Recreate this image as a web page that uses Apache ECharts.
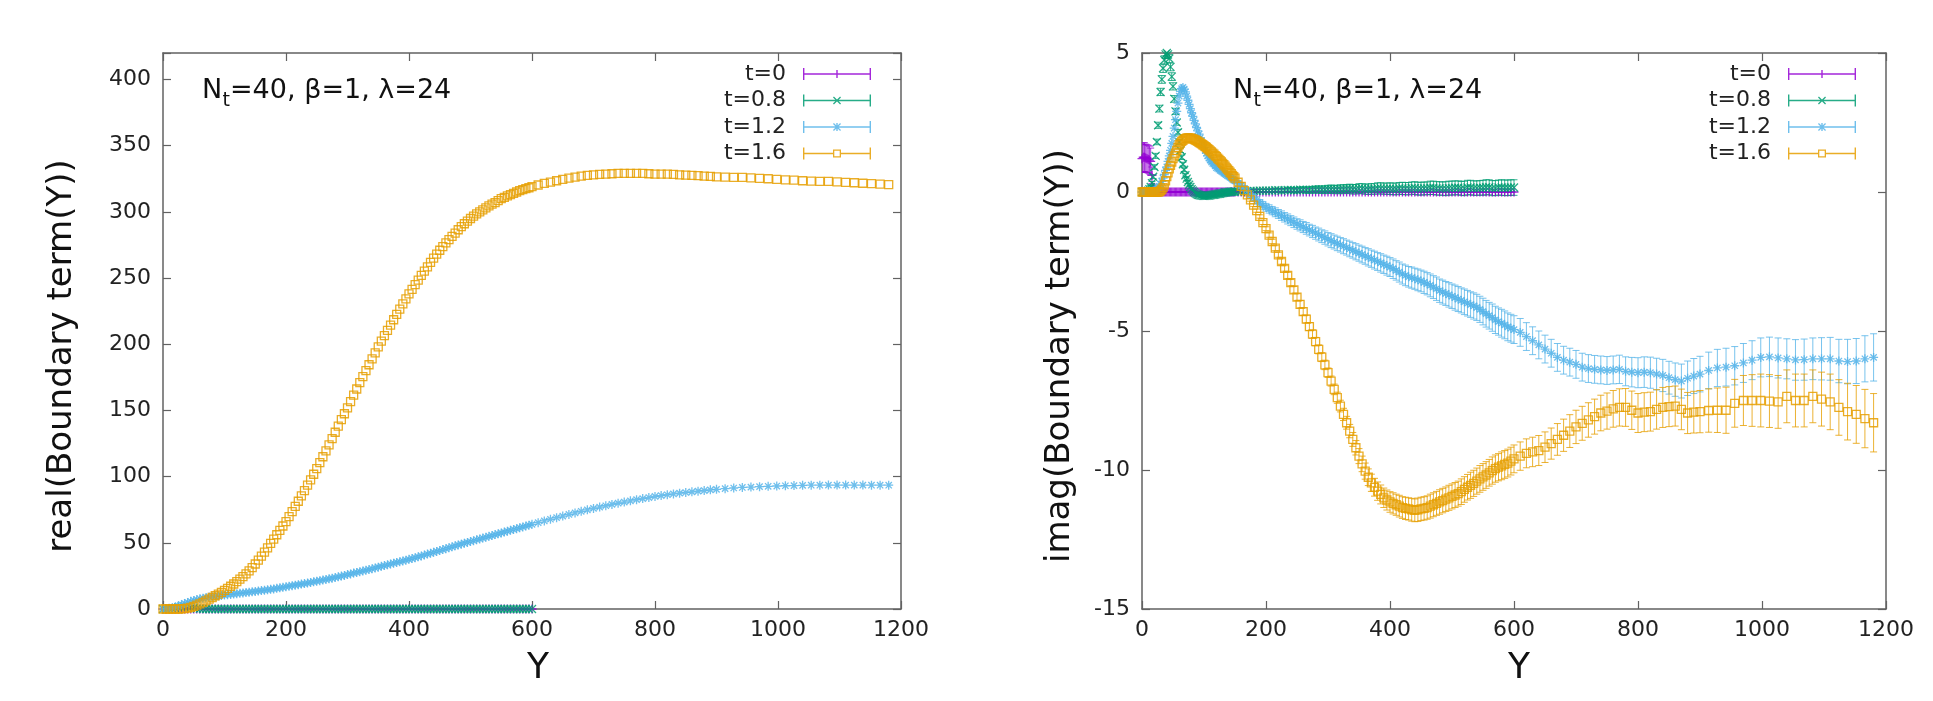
<!DOCTYPE html>
<html>
<head>
<meta charset="utf-8">
<script src="https://cdn.jsdelivr.net/npm/echarts@6/dist/echarts.min.js"></script>
<style>
  html, body { margin: 0; padding: 0; background: #fff; }
  #chart { width: 1933px; height: 701px; }
</style>
</head>
<body>
<div id="chart"></div>
<script>
// ---- left panel: Y values (t=0 and t=0.8 stop at Y=600, index 120) ----
const yReal = [
  0, 5, 10, 15, 20, 25, 30, 35, 40, 45,
  50, 55, 60, 65, 70, 75, 80, 85, 90, 95,
  100, 105, 110, 115, 120, 125, 130, 135, 140, 145,
  150, 155, 160, 165, 170, 175, 180, 185, 190, 195,
  200, 205, 210, 215, 220, 225, 230, 235, 240, 245,
  250, 255, 260, 265, 270, 275, 280, 285, 290, 295,
  300, 305, 310, 315, 320, 325, 330, 335, 340, 345,
  350, 355, 360, 365, 370, 375, 380, 385, 390, 395,
  400, 405, 410, 415, 420, 425, 430, 435, 440, 445,
  450, 455, 460, 465, 470, 475, 480, 485, 490, 495,
  500, 505, 510, 515, 520, 525, 530, 535, 540, 545,
  550, 555, 560, 565, 570, 575, 580, 585, 590, 595,
  600, 610, 620, 630, 640, 650, 660, 670, 680, 690,
  700, 710, 720, 730, 740, 750, 760, 770, 780, 790,
  800, 810, 820, 830, 840, 850, 860, 870, 880, 890,
  900, 914, 928, 942, 956, 970, 984, 998, 1012, 1026,
  1040, 1054, 1068, 1082, 1096, 1110, 1124, 1138, 1152, 1166,
  1180
];

const realT0 = [
  0, 0, 0, 0, 0, 0, 0, 0, 0, 0,
  0, 0, 0, 0, 0, 0, 0, 0, 0, 0,
  0, 0, 0, 0, 0, 0, 0, 0, 0, 0,
  0, 0, 0, 0, 0, 0, 0, 0, 0, 0,
  0, 0, 0, 0, 0, 0, 0, 0, 0, 0,
  0, 0, 0, 0, 0, 0, 0, 0, 0, 0,
  0, 0, 0, 0, 0, 0, 0, 0, 0, 0,
  0, 0, 0, 0, 0, 0, 0, 0, 0, 0,
  0, 0, 0, 0, 0, 0, 0, 0, 0, 0,
  0, 0, 0, 0, 0, 0, 0, 0, 0, 0,
  0, 0, 0, 0, 0, 0, 0, 0, 0, 0,
  0, 0, 0, 0, 0, 0, 0, 0, 0, 0,
  0
];
const realT08 = [
  0, 0, 0.1, 0.3, 0.5, 1.2, 1.8, 2.0, 1.8, 1.2,
  0.7, 0.3, 0.1, 0, 0, 0, 0, 0, 0, 0,
  0, 0, 0, 0, 0, 0, 0, 0, 0, 0,
  0, 0, 0, 0, 0, 0, 0, 0, 0, 0,
  0, 0, 0, 0, 0, 0, 0, 0, 0, 0,
  0, 0, 0, 0, 0, 0, 0, 0, 0, 0,
  0, 0, 0, 0, 0, 0, 0, 0, 0, 0,
  0, 0, 0, 0, 0, 0, 0, 0, 0, 0,
  0, 0, 0, 0, 0, 0, 0, 0, 0, 0,
  0, 0, 0, 0, 0, 0, 0, 0, 0, 0,
  0, 0, 0, 0, 0, 0, 0, 0, 0, 0,
  0, 0, 0, 0, 0, 0, 0, 0, 0, 0,
  0
];
const realT12 = [
  0, 0.2, 0.5, 1.0, 1.6, 2.4, 3.3, 4.2, 5.0, 5.8,
  6.5, 7.1, 7.7, 8.2, 8.6, 9.0, 9.3, 9.6, 9.9, 10.2,
  10.5, 10.8, 11.0, 11.3, 11.6, 11.9, 12.1, 12.4, 12.7, 13.0,
  13.3, 13.6, 13.9, 14.2, 14.5, 14.9, 15.2, 15.6, 16.0, 16.4,
  16.8, 17.2, 17.6, 18.0, 18.4, 18.8, 19.2, 19.6, 20.1, 20.5,
  21.0, 21.4, 21.9, 22.3, 22.8, 23.3, 23.8, 24.3, 24.9, 25.4,
  26.0, 26.5, 27.1, 27.6, 28.2, 28.7, 29.3, 29.8, 30.4, 31.0,
  31.6, 32.2, 32.8, 33.4, 34.0, 34.6, 35.2, 35.7, 36.3, 36.9,
  37.5, 38.1, 38.8, 39.4, 40.1, 40.8, 41.5, 42.1, 42.8, 43.5,
  44.2, 44.9, 45.6, 46.3, 47.0, 47.7, 48.4, 49.0, 49.7, 50.3,
  51.0, 51.6, 52.3, 52.9, 53.6, 54.2, 54.9, 55.5, 56.2, 56.8,
  57.5, 58.1, 58.8, 59.4, 60.1, 60.7, 61.4, 62.0, 62.7, 63.3,
  64.0, 65.2, 66.5, 67.8, 69.0, 70.2, 71.4, 72.6, 73.8, 74.9,
  76.0, 77.0, 78.0, 79.0, 79.9, 80.8, 81.7, 82.6, 83.4, 84.2,
  85.0, 85.7, 86.3, 86.9, 87.5, 88.0, 88.5, 89.0, 89.5, 90.0,
  90.4, 90.9, 91.4, 91.8, 92.1, 92.4, 92.7, 92.9, 93.1, 93.2,
  93.4, 93.5, 93.5, 93.6, 93.6, 93.6, 93.6, 93.6, 93.5, 93.5,
  93.5
];
const realT16 = [
  0, 0, 0, 0, 0, 0, 0.1, 0.3, 0.6, 1.2,
  2.0, 2.9, 3.9, 5.0, 6.2, 7.4, 8.7, 10.0, 11.3, 12.6,
  14.0, 15.6, 17.2, 18.9, 20.7, 22.5, 24.5, 26.6, 28.8, 31.3,
  34.0, 36.9, 39.9, 43.0, 46.2, 49.5, 52.8, 56.1, 59.4, 62.7,
  66.0, 69.8, 73.6, 77.5, 81.4, 85.4, 89.4, 93.5, 97.6, 101.8,
  106, 110.5, 115, 119.5, 124, 128.7, 133.5, 138.2, 143, 147.5,
  152, 156.7, 161.5, 166.2, 171, 175.5, 180, 184.5, 189, 193.5,
  198, 202.3, 206.5, 210.5, 214.5, 218.5, 222.5, 226.5, 230.5, 234.3,
  238, 241.5, 245, 248.5, 252, 255.3, 258.5, 261.8, 265, 268,
  271, 273.8, 276.5, 279, 281.5, 284, 286.5, 288.8, 291, 293,
  295, 296.8, 298.5, 300, 301.5, 303, 304.5, 305.8, 307, 308.5,
  310, 311, 312, 313, 314, 315, 316, 316.8, 317.5, 318.2,
  319, 320.3, 321.5, 322.5, 323.5, 324.5, 325.5, 326.3, 327, 327.5,
  328, 328.3, 328.5, 328.8, 329, 329, 329, 329, 329, 328.8,
  328.5, 328.5, 328.5, 328.3, 328, 327.8, 327.5, 327.3, 327, 326.8,
  326.5, 326.2, 326, 326, 325.7, 325.3, 325, 324.6, 324.2, 323.9,
  323.5, 323.2, 323, 323, 322.6, 322.3, 322, 321.6, 321.3, 321,
  320.5
];

// ---- right panel: Y values (t=0 and t=0.8 stop at Y=600, index 165) ----
const yImag = [
  0, 2, 4, 6, 8, 10, 12, 14, 16, 18,
  20, 22, 24, 26, 28, 30, 32, 34, 36, 38,
  40, 42, 44, 46, 48, 50, 52, 54, 56, 58,
  60, 62, 64, 66, 68, 70, 72, 74, 76, 78,
  80, 82, 84, 86, 88, 90, 92, 94, 96, 98,
  100, 102, 104, 106, 108, 110, 112, 114, 116, 118,
  120, 122, 124, 126, 128, 130, 132, 134, 136, 138,
  140, 142, 144, 146, 148, 150,
  155, 160, 165, 170, 175, 180, 185, 190, 195, 200,
  205, 210, 215, 220, 225, 230, 235, 240, 245, 250,
  255, 260, 265, 270, 275, 280, 285, 290, 295, 300,
  305, 310, 315, 320, 325, 330, 335, 340, 345, 350,
  355, 360, 365, 370, 375, 380, 385, 390, 395, 400,
  405, 410, 415, 420, 425, 430, 435, 440, 445, 450,
  455, 460, 465, 470, 475, 480, 485, 490, 495, 500,
  505, 510, 515, 520, 525, 530, 535, 540, 545, 550,
  555, 560, 565, 570, 575, 580, 585, 590, 595, 600,
  610, 620, 630, 640, 650, 660, 670, 680, 690,
  700, 710, 720, 730, 740, 750, 760, 770, 780, 790,
  800, 810, 820, 830, 840, 850, 860, 870, 880, 890,
  900, 914, 928, 942, 956, 970, 984, 998, 1012, 1026,
  1040, 1054, 1068, 1082, 1096, 1110, 1124, 1138, 1152, 1166,
  1180
];

const imagT0 = [
  1.2, 1.25, 1.25, 1.22, 1.2, 1.18, 1.15, 1.1, 0.6, 0.15,
  0.05, 0.02, 0.01, 0, 0, 0, 0, 0, 0, 0,
  0, 0, 0, 0, 0, 0, 0, 0, 0, 0,
  0, 0, 0, 0, 0, 0, 0, 0, 0, 0,
  0, 0, 0, 0, 0, 0, 0, 0, 0, 0,
  0, 0, 0, 0, 0, 0, 0, 0, 0, 0,
  0, 0, 0, 0, 0, 0, 0, 0, 0, 0,
  0, 0, 0, 0, 0, 0,
  0, 0, 0, 0, 0, 0, 0, 0, 0, 0,
  0, 0, 0, 0, 0, 0, 0, 0, 0, 0,
  0, 0, 0, 0, 0, 0, 0, 0, 0, 0,
  0, 0, 0, 0, 0, 0, 0, 0, 0, 0,
  0, 0, 0, 0, 0, 0, 0, 0, 0, 0,
  0, 0, 0, 0, 0, 0, 0, 0, 0, 0,
  0, 0, 0, 0, 0, 0, 0, 0, 0, 0,
  0, 0, 0, 0, 0, 0, 0, 0, 0, 0,
  0, 0, 0, 0, 0, 0, 0, 0, 0, 0
];
// errors of t=0, from Y=0 on
const imagErrT0 = [
  0.5, 0.52, 0.52, 0.5, 0.5, 0.5, 0.5, 0.48, 0.3, 0.1
];
const imagT08 = [
  0, 0, 0, 0.01, 0.02, 0.05, 0.1, 0.18, 0.32, 0.55,
  0.9, 1.3, 1.8, 2.4, 3.0, 3.6, 4.05, 4.45, 4.75, 4.95,
  5.0, 4.95, 4.8, 4.5, 4.15, 3.8, 3.35, 2.9, 2.5, 2.15,
  1.8, 1.5, 1.25, 1.0, 0.8, 0.6, 0.48, 0.36, 0.26, 0.18,
  0.1, 0.05, 0, -0.04, -0.07, -0.1, -0.11, -0.12, -0.13, -0.14,
  -0.14, -0.14, -0.14, -0.13, -0.13, -0.12, -0.11, -0.1, -0.1, -0.09,
  -0.08, -0.07, -0.06, -0.06, -0.05, -0.04, -0.03, -0.02, -0.02, -0.01,
  0, 0, 0.01, 0.01, 0.02, 0.02,
  0.02, 0.03, 0.03, 0.03, 0.04, 0.04, 0.04, 0.05, 0.05, 0.05,
  0.05, 0.05, 0.06, 0.06, 0.05, 0.06, 0.07, 0.07, 0.06, 0.06,
  0.08, 0.08, 0.07, 0.07, 0.08, 0.09, 0.09, 0.08, 0.08, 0.1,
  0.1, 0.09, 0.09, 0.1, 0.1, 0.11, 0.11, 0.1, 0.1, 0.12,
  0.12, 0.1, 0.1, 0.11, 0.11, 0.13, 0.13, 0.12, 0.12, 0.12,
  0.11, 0.11, 0.13, 0.13, 0.12, 0.12, 0.14, 0.14, 0.12, 0.12,
  0.13, 0.13, 0.15, 0.15, 0.13, 0.13, 0.12, 0.12, 0.14, 0.14,
  0.15, 0.15, 0.13, 0.13, 0.16, 0.16, 0.14, 0.14, 0.15, 0.15,
  0.17, 0.17, 0.14, 0.14, 0.16, 0.16, 0.15, 0.15, 0.16, 0.16
];
// errors of t=0.8, from Y=0 on
const imagErrT08 = [
  0.01, 0.01, 0.01, 0.02, 0.02, 0.03, 0.04, 0.05, 0.06, 0.07,
  0.08, 0.09, 0.1, 0.11, 0.12, 0.13, 0.14, 0.15, 0.15, 0.15,
  0.15, 0.15, 0.15, 0.14, 0.14, 0.13, 0.12, 0.11, 0.1, 0.1,
  0.09, 0.08, 0.08, 0.07, 0.07, 0.06, 0.06, 0.05, 0.05, 0.05,
  0.05, 0.05, 0.05, 0.05, 0.05, 0.05, 0.05, 0.05, 0.05, 0.05,
  0.04, 0.04, 0.04, 0.04, 0.04, 0.04, 0.04, 0.04, 0.04, 0.04,
  0.04, 0.04, 0.04, 0.04, 0.04, 0.04, 0.04, 0.04, 0.04, 0.04,
  0.04, 0.04, 0.04, 0.04, 0.04, 0.04,
  0.04, 0.04, 0.04, 0.04, 0.04, 0.04, 0.04, 0.04, 0.04, 0.04,
  0.05, 0.05, 0.06, 0.06, 0.07, 0.07, 0.08, 0.08, 0.09, 0.09,
  0.1, 0.1, 0.11, 0.11, 0.12, 0.12, 0.13, 0.13, 0.14, 0.14,
  0.15, 0.15, 0.15, 0.16, 0.16, 0.16, 0.17, 0.17, 0.17, 0.18,
  0.18, 0.18, 0.19, 0.19, 0.19, 0.2, 0.2, 0.2, 0.2, 0.21,
  0.21, 0.21, 0.21, 0.22, 0.22, 0.22, 0.22, 0.23, 0.23, 0.23,
  0.23, 0.23, 0.24, 0.24, 0.24, 0.24, 0.24, 0.25, 0.25, 0.25,
  0.25, 0.25, 0.25, 0.26, 0.26, 0.26, 0.26, 0.26, 0.26, 0.27,
  0.27, 0.27, 0.27, 0.27, 0.27, 0.28, 0.28, 0.28, 0.28, 0.28
];
const imagT12 = [
  0, 0, 0, 0, 0, 0, 0, 0, 0.01, 0.02,
  0.04, 0.07, 0.1, 0.14, 0.2, 0.28, 0.38, 0.5, 0.63, 0.78,
  0.9, 1.1, 1.3, 1.5, 1.75, 2.0, 2.3, 2.6, 2.9, 3.2,
  3.45, 3.62, 3.72, 3.76, 3.7, 3.6, 3.45, 3.3, 3.15, 3.0,
  2.85, 2.72, 2.58, 2.45, 2.32, 2.2, 2.08, 1.95, 1.85, 1.72,
  1.6, 1.5, 1.4, 1.3, 1.22, 1.15, 1.08, 1.03, 1.0, 0.94,
  0.88, 0.85, 0.82, 0.78, 0.75, 0.72, 0.68, 0.65, 0.62, 0.59,
  0.56, 0.53, 0.5, 0.46, 0.43, 0.4,
  0.31, 0.22, 0.12, 0.02, -0.09, -0.2, -0.3, -0.4, -0.48, -0.55,
  -0.61, -0.67, -0.73, -0.79, -0.85, -0.91, -0.97, -1.03, -1.09, -1.15,
  -1.2, -1.26, -1.31, -1.37, -1.42, -1.48, -1.53, -1.59, -1.64, -1.7,
  -1.75, -1.8, -1.85, -1.9, -1.95, -2.0, -2.05, -2.1, -2.15, -2.2,
  -2.25, -2.3, -2.35, -2.4, -2.45, -2.5, -2.55, -2.6, -2.65, -2.7,
  -2.76, -2.82, -2.88, -2.95, -3.0, -3.05, -3.08, -3.12, -3.16, -3.2,
  -3.25, -3.3, -3.36, -3.42, -3.48, -3.55, -3.6, -3.65, -3.7, -3.75,
  -3.8, -3.85, -3.9, -3.95, -4.0, -4.05, -4.1, -4.15, -4.22, -4.3,
  -4.38, -4.45, -4.52, -4.6, -4.66, -4.72, -4.78, -4.85, -4.9, -4.95,
  -5.05, -5.2, -5.35, -5.5, -5.65, -5.8, -5.95, -6.05, -6.12,
  -6.2, -6.3, -6.35, -6.38, -6.4, -6.42, -6.4, -6.38, -6.45, -6.48,
  -6.5, -6.48, -6.5, -6.55, -6.6, -6.68, -6.75, -6.8, -6.7, -6.62,
  -6.55, -6.42, -6.33, -6.3, -6.25, -6.15, -6.05, -5.95, -5.93, -5.97,
  -6.0, -6.04, -6.03, -6.0, -6.0, -6.0, -6.08, -6.1, -6.08, -6.0,
  -5.95
];
// errors of t=1.2, from Y=155 on (smaller ones hide under the points)
const imagErrT12 = [
  0.1, 0.1, 0.11, 0.11, 0.12, 0.12, 0.13, 0.13, 0.14, 0.14,
  0.15, 0.15, 0.16, 0.16, 0.17, 0.17, 0.18, 0.18, 0.19, 0.19,
  0.2, 0.2, 0.21, 0.21, 0.22, 0.22, 0.23, 0.23, 0.24, 0.24,
  0.25, 0.25, 0.26, 0.26, 0.27, 0.27, 0.28, 0.28, 0.29, 0.29,
  0.3, 0.3, 0.31, 0.31, 0.32, 0.32, 0.33, 0.33, 0.34, 0.34,
  0.35, 0.35, 0.36, 0.36, 0.37, 0.37, 0.38, 0.38, 0.39, 0.39,
  0.4, 0.4, 0.41, 0.41, 0.42, 0.42, 0.43, 0.43, 0.44, 0.44,
  0.45, 0.45, 0.45, 0.46, 0.46, 0.46, 0.47, 0.47, 0.47, 0.48,
  0.48, 0.48, 0.49, 0.49, 0.49, 0.5, 0.5, 0.5, 0.5, 0.5,
  0.5, 0.5, 0.5, 0.5, 0.5, 0.5, 0.5, 0.5, 0.5,
  0.5, 0.5, 0.5, 0.5, 0.5, 0.5, 0.5, 0.51, 0.52, 0.53,
  0.54, 0.55, 0.56, 0.57, 0.58, 0.59, 0.6, 0.61, 0.62, 0.63,
  0.64, 0.66, 0.67, 0.68, 0.69, 0.7, 0.7, 0.7, 0.71, 0.72,
  0.72, 0.73, 0.74, 0.75, 0.76, 0.77, 0.78, 0.8, 0.81, 0.83,
  0.85
];
const imagT16 = [
  0, 0, 0, 0, 0, 0, 0, 0, 0, 0,
  0, 0, 0, 0, 0.01, 0.04, 0.09, 0.16, 0.26, 0.4,
  0.55, 0.69, 0.83, 0.96, 1.08, 1.2, 1.3, 1.4, 1.5, 1.6,
  1.7, 1.76, 1.82, 1.86, 1.9, 1.92, 1.94, 1.95, 1.95, 1.94,
  1.93, 1.91, 1.89, 1.87, 1.85, 1.82, 1.79, 1.76, 1.73, 1.7,
  1.67, 1.63, 1.6, 1.56, 1.52, 1.48, 1.44, 1.4, 1.36, 1.31,
  1.27, 1.22, 1.17, 1.13, 1.08, 1.03, 0.98, 0.93, 0.87, 0.82,
  0.77, 0.71, 0.66, 0.6, 0.55, 0.5,
  0.35, 0.2, 0.05, -0.1, -0.28, -0.47, -0.67, -0.88, -1.1, -1.32,
  -1.55, -1.78, -2.02, -2.26, -2.5, -2.75, -3.0, -3.26, -3.52, -3.78,
  -4.04, -4.3, -4.57, -4.84, -5.11, -5.38, -5.66, -5.94, -6.22, -6.5,
  -6.8, -7.1, -7.4, -7.7, -8.0, -8.3, -8.6, -8.9, -9.2, -9.5,
  -9.78, -10.04, -10.26, -10.46, -10.62, -10.76, -10.88, -11.0, -11.08, -11.15,
  -11.2, -11.25, -11.3, -11.35, -11.38, -11.4, -11.43, -11.45, -11.43, -11.4,
  -11.38, -11.35, -11.3, -11.25, -11.2, -11.15, -11.1, -11.05, -11.0, -10.95,
  -10.9, -10.85, -10.78, -10.7, -10.62, -10.55, -10.48, -10.4, -10.32, -10.25,
  -10.18, -10.1, -10.02, -9.95, -9.9, -9.85, -9.8, -9.75, -9.68, -9.6,
  -9.5, -9.4, -9.35, -9.3, -9.18, -9.05, -8.9, -8.75, -8.6,
  -8.45, -8.32, -8.2, -8.08, -7.95, -7.88, -7.8, -7.75, -7.75, -7.85,
  -7.95, -7.92, -7.9, -7.82, -7.75, -7.72, -7.7, -7.82, -7.95, -7.92,
  -7.9, -7.86, -7.85, -7.85, -7.6, -7.5, -7.5, -7.5, -7.52, -7.55,
  -7.35, -7.5, -7.5, -7.35, -7.45, -7.55, -7.75, -7.9, -8.0, -8.15,
  -8.3
];
// errors of t=1.6, from Y=155 on
const imagErrT16 = [
  0.03, 0.03, 0.04, 0.04, 0.05, 0.05, 0.06, 0.06, 0.07, 0.07,
  0.08, 0.08, 0.09, 0.09, 0.1, 0.1, 0.11, 0.11, 0.12, 0.12,
  0.13, 0.13, 0.14, 0.14, 0.15, 0.15, 0.16, 0.16, 0.17, 0.17,
  0.18, 0.19, 0.2, 0.21, 0.22, 0.23, 0.24, 0.25, 0.26, 0.27,
  0.28, 0.29, 0.3, 0.31, 0.32, 0.33, 0.34, 0.35, 0.36, 0.37,
  0.38, 0.38, 0.39, 0.39, 0.4, 0.4, 0.41, 0.41, 0.42, 0.42,
  0.42, 0.42, 0.43, 0.43, 0.43, 0.44, 0.44, 0.44, 0.45, 0.45,
  0.45, 0.45, 0.46, 0.46, 0.46, 0.47, 0.47, 0.47, 0.48, 0.48,
  0.48, 0.48, 0.49, 0.49, 0.49, 0.5, 0.5, 0.5, 0.5, 0.5,
  0.51, 0.52, 0.53, 0.54, 0.55, 0.56, 0.57, 0.58, 0.59,
  0.6, 0.61, 0.62, 0.63, 0.64, 0.65, 0.66, 0.67, 0.68, 0.69,
  0.7, 0.7, 0.7, 0.71, 0.72, 0.72, 0.72, 0.73, 0.74, 0.75,
  0.76, 0.78, 0.8, 0.83, 0.86, 0.9, 0.93, 0.95, 0.95, 0.95,
  0.95, 0.95, 0.95, 0.95, 0.97, 1.0, 1.0, 1.02, 1.04, 1.05,
  1.05
];

// axis ticks
const xTicks = { min: 0, max: 1200, interval: 200 };
const realTicks = { min: 0, max: 420, interval: 50 };
const imagTicks = { min: -15, max: 5, interval: 5 };

const tNames = ['t=0', 't=0.8', 't=1.2', 't=1.6'];
// gnuplot default palette
const colors = ['#9400d3', '#009e73', '#56b4e9', '#e69f00'];
const FONT = 'DejaVu Sans';
const FRAME = '#626262';

// point types: +, x, *, open square
const symbols = [
  { symbol: 'path://M0,5H10M5,0V10', size: 9 },
  { symbol: 'path://M0,0L10,10M10,0L0,10', size: 8 },
  { symbol: 'path://M0,5H10M5,0V10M1.5,1.5L8.5,8.5M8.5,1.5L1.5,8.5', size: 9 },
  { symbol: 'rect', size: 8 }
];

// legend keys: error-bar line with end caps and the point type in the middle (68 x 12 box)
const caps = 'M0,0H1.4V12H0Z M66.6,0H68V12H66.6Z ';
const fullLine = 'M0,5.3H68V6.7H0Z ';
const plusMark = 'M33.3,2H34.7V10H33.3Z ';
const crossMark = 'M30,2.9L30.9,2L38,9.1L37.1,10Z M37.1,2L38,2.9L30.9,10L30,9.1Z ';
const legendIcons = [
  'path://' + caps + fullLine + plusMark,
  'path://' + caps + fullLine + crossMark,
  'path://' + caps + fullLine + plusMark + crossMark,
  'path://' + caps + 'M0,5.3H30V6.7H0Z M38,5.3H68V6.7H38Z M30,2H38V10H30Z M31.3,3.3V8.7H36.7V3.3Z'
];

function pts(ys, vals) {
  return vals.map((v, i) => [ys[i], v]);
}
function errPts(ys, vals, errs, start) {
  return errs.map((e, j) => [ys[start + j], vals[start + j], e]);
}

function markerSeries(k, ys, vals, g) {
  return {
    type: 'scatter',
    name: tNames[k],
    xAxisIndex: g * 2,
    yAxisIndex: g * 2,
    data: pts(ys, vals),
    symbol: symbols[k].symbol,
    symbolSize: symbols[k].size,
    itemStyle: { color: 'transparent', borderColor: colors[k], borderWidth: 1.3, opacity: 0.85 },
    clip: true,
    silent: true,
    z: 3
  };
}

function errorSeries(k, ys, vals, errs, start, g) {
  return {
    type: 'custom',
    name: tNames[k],
    xAxisIndex: g * 2,
    yAxisIndex: g * 2,
    data: errPts(ys, vals, errs, start),
    encode: { x: 0, y: 1 },
    clip: true,
    silent: true,
    z: 3,
    renderItem: function (params, api) {
      const x = api.value(0), y = api.value(1), e = api.value(2);
      const lo = api.coord([x, y - e]);
      const hi = api.coord([x, y + e]);
      const st = { stroke: colors[k], lineWidth: 1, opacity: 0.8 };
      return {
        type: 'group',
        children: [
          { type: 'line', shape: { x1: lo[0], y1: lo[1], x2: hi[0], y2: hi[1] }, style: st },
          { type: 'line', shape: { x1: lo[0] - 3.5, y1: lo[1], x2: lo[0] + 3.5, y2: lo[1] }, style: st },
          { type: 'line', shape: { x1: hi[0] - 3.5, y1: hi[1], x2: hi[0] + 3.5, y2: hi[1] }, style: st }
        ]
      };
    }
  };
}

function xAxes(g) {
  const base = {
    type: 'value', gridIndex: g, min: xTicks.min, max: xTicks.max, interval: xTicks.interval,
    axisLine: { show: true, onZero: false, lineStyle: { color: FRAME, width: 1.5 } },
    axisTick: { show: true, inside: true, length: 8, lineStyle: { color: FRAME, width: 1.2 } },
    splitLine: { show: false }
  };
  return [
    Object.assign({}, base, {
      position: 'bottom',
      axisLabel: { margin: 10, fontSize: 22, fontFamily: FONT, color: '#222', formatter: v => String(v) }
    }),
    Object.assign({}, base, { position: 'top', axisLabel: { show: false } })
  ];
}

function yAxes(g, ticks) {
  const base = {
    type: 'value', gridIndex: g, min: ticks.min, max: ticks.max, interval: ticks.interval,
    axisLine: { show: true, onZero: false, lineStyle: { color: FRAME, width: 1.5 } },
    axisTick: { show: true, inside: true, length: 8, lineStyle: { color: FRAME, width: 1.2 } },
    splitLine: { show: false }
  };
  return [
    Object.assign({}, base, {
      position: 'left',
      axisLabel: {
        margin: 12, fontSize: 22, fontFamily: FONT, color: '#222',
        formatter: v => ((v - ticks.min) % ticks.interval === 0 ? String(v) : '')
      }
    }),
    Object.assign({}, base, { position: 'right', axisLabel: { show: false } })
  ];
}

function legendFor(rightPx) {
  return {
    orient: 'vertical',
    align: 'right',
    right: rightPx,
    top: 63,
    padding: 0,
    itemGap: 4.5,
    itemWidth: 68,
    itemHeight: 12,
    selectedMode: false,
    textStyle: { fontSize: 22, fontFamily: FONT, color: '#222', lineHeight: 22, padding: [0, 12, 0, 0] },
    data: tNames.map((n, k) => ({
      name: n,
      icon: legendIcons[k],
      itemStyle: { color: colors[k], borderWidth: 0, opacity: 0.85 }
    }))
  };
}

function note(x) {
  // "N_t=40, β=1, λ=24"
  return [
    { type: 'text', x: x, y: 91, style: { text: 'N', fontSize: 27, fontFamily: FONT, fill: '#111', align: 'left', verticalAlign: 'middle' } },
    { type: 'text', x: x + 20.5, y: 101, style: { text: 't', fontSize: 19, fontFamily: FONT, fill: '#111', align: 'left', verticalAlign: 'middle' } },
    { type: 'text', x: x + 28, y: 91, style: { text: '=40, β=1, λ=24', fontSize: 27, fontFamily: FONT, fill: '#111', align: 'left', verticalAlign: 'middle' } }
  ];
}

function title(text, x, y, rot, size) {
  return {
    type: 'text', x: x, y: y, rotation: rot,
    style: { text: text, fontSize: size, fontFamily: FONT, fill: '#111', align: 'center', verticalAlign: 'middle' }
  };
}

const series = [];
[realT0, realT08, realT12, realT16].forEach((vals, k) => series.push(markerSeries(k, yReal, vals, 0)));

series.push(errorSeries(0, yImag, imagT0, imagErrT0, 0, 1));
series.push(markerSeries(0, yImag, imagT0, 1));
series.push(errorSeries(1, yImag, imagT08, imagErrT08, 0, 1));
series.push(markerSeries(1, yImag, imagT08, 1));
series.push(errorSeries(2, yImag, imagT12, imagErrT12, 76, 1));
series.push(markerSeries(2, yImag, imagT12, 1));
series.push(errorSeries(3, yImag, imagT16, imagErrT16, 76, 1));
series.push(markerSeries(3, yImag, imagT16, 1));

const chart = echarts.init(document.getElementById('chart'));

const option = {
  animation: false,
  backgroundColor: '#fff',
  textStyle: { fontFamily: FONT },
  grid: [
    { left: 163, top: 53, width: 738, height: 556, outerBoundsMode: 'none' },
    { left: 1142, top: 53, width: 744, height: 556, outerBoundsMode: 'none' }
  ],
  xAxis: xAxes(0).concat(xAxes(1)),
  yAxis: yAxes(0, realTicks).concat(yAxes(1, imagTicks)),
  legend: [legendFor(1933 - 871), legendFor(1933 - 1856)],
  graphic: [
    title('real(Boundary term(Y))', 62, 356, Math.PI / 2, 34),
    title('imag(Boundary term(Y))', 1060, 356, Math.PI / 2, 34),
    title('Y', 538, 669, 0, 36),
    title('Y', 1519, 669, 0, 36)
  ].concat(note(202), note(1233)),
  series: series
};

chart.setOption(option);
</script>
</body>
</html>
